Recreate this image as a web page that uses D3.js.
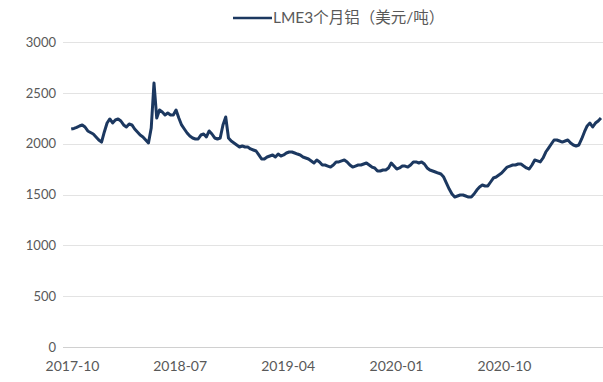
<!DOCTYPE html>
<html>
<head>
<meta charset="utf-8">
<script src="https://cdn.jsdelivr.net/npm/d3@7"></script>
<style>
  body { margin: 0; background: #fff; }
  svg { display: block; }
  text { font-family: Lato, "Noto Sans CJK SC", sans-serif; fill: #595959; }
</style>
</head>
<body>
<svg id="chart" width="603" height="382"></svg>
<script>
// Weekly closes (Fridays), LME 3-month aluminium, USD/t
const dates = [
  "2017-09-29","2017-10-06","2017-10-13","2017-10-20","2017-10-27","2017-11-03","2017-11-10","2017-11-17","2017-11-24",
  "2017-12-01","2017-12-08","2017-12-15","2017-12-22","2017-12-29",
  "2018-01-05","2018-01-12","2018-01-19","2018-01-26","2018-02-02","2018-02-09","2018-02-16","2018-02-23",
  "2018-03-02","2018-03-09","2018-03-16","2018-03-23","2018-03-30","2018-04-06","2018-04-13","2018-04-20","2018-04-27",
  "2018-05-04","2018-05-11","2018-05-18","2018-05-25","2018-06-01","2018-06-08","2018-06-15","2018-06-22","2018-06-29",
  "2018-07-06","2018-07-13","2018-07-20","2018-07-27","2018-08-03","2018-08-10","2018-08-17","2018-08-24","2018-08-31",
  "2018-09-07","2018-09-14","2018-09-21","2018-09-28","2018-10-05","2018-10-12","2018-10-19","2018-10-26",
  "2018-11-02","2018-11-09","2018-11-16","2018-11-23","2018-11-30","2018-12-07","2018-12-14","2018-12-21","2018-12-28",
  "2019-01-04","2019-01-11","2019-01-18","2019-01-25","2019-02-01","2019-02-08","2019-02-15","2019-02-22",
  "2019-03-01","2019-03-08","2019-03-15","2019-03-22","2019-03-29","2019-04-05","2019-04-12","2019-04-19","2019-04-26",
  "2019-05-03","2019-05-10","2019-05-17","2019-05-24","2019-05-31","2019-06-07","2019-06-14","2019-06-21","2019-06-28",
  "2019-07-05","2019-07-12","2019-07-19","2019-07-26","2019-08-02","2019-08-09","2019-08-16","2019-08-23","2019-08-30",
  "2019-09-06","2019-09-13","2019-09-20","2019-09-27","2019-10-04","2019-10-11","2019-10-18","2019-10-25",
  "2019-11-01","2019-11-08","2019-11-15","2019-11-22","2019-11-29","2019-12-06","2019-12-13","2019-12-20","2019-12-27",
  "2020-01-03","2020-01-10","2020-01-17","2020-01-24","2020-01-31","2020-02-07","2020-02-14","2020-02-21","2020-02-28",
  "2020-03-06","2020-03-13","2020-03-20","2020-03-27","2020-04-03","2020-04-10","2020-04-17","2020-04-24",
  "2020-05-01","2020-05-08","2020-05-15","2020-05-22","2020-05-29","2020-06-05","2020-06-12","2020-06-19","2020-06-26",
  "2020-07-03","2020-07-10","2020-07-17","2020-07-24","2020-07-31","2020-08-07","2020-08-14","2020-08-21","2020-08-28",
  "2020-09-04","2020-09-11","2020-09-18","2020-09-25","2020-10-02","2020-10-09","2020-10-16","2020-10-23","2020-10-30",
  "2020-11-06","2020-11-13","2020-11-20","2020-11-27","2020-12-04","2020-12-11","2020-12-18","2020-12-25",
  "2021-01-01","2021-01-08","2021-01-15","2021-01-22","2021-01-29","2021-02-05","2021-02-12","2021-02-19","2021-02-26",
  "2021-03-05","2021-03-12","2021-03-19","2021-03-26","2021-04-02","2021-04-09","2021-04-16","2021-04-23","2021-04-30",
  "2021-05-07","2021-05-14","2021-05-21","2021-05-28","2021-06-04"
];

const prices = [
  2144,2150,2160,2174,2184,2164,2125,2110,2095,2066,2036,2016,2115,2203,
  2243,2203,2233,2243,2223,2184,2164,2193,2184,2144,2115,2085,2066,2036,2007,2154,2597,2252,
  2331,2311,2282,2302,2282,2282,2331,2252,2184,2144,2105,2075,2056,2046,2046,2085,2095,
  2066,2125,2095,2056,2046,2056,2184,2262,2056,2026,2007,1987,1967,1977,1967,1967,1948,
  1938,1928,1889,1849,1849,1869,1879,1889,1869,1898,1879,1889,1908,1918,1918,1908,1898,
  1889,1869,1859,1849,1830,1810,1839,1820,1790,1790,1780,1770,1790,1820,1820,1830,1839,
  1820,1790,1770,1780,1790,1790,1800,1810,1790,1770,1761,1731,1731,1741,1741,1761,1810,1780,
  1751,1761,1780,1780,1770,1790,1820,1820,1810,1820,1800,1761,1741,1731,1721,1711,1702,
  1672,1613,1554,1505,1475,1485,1495,1495,1485,1475,1475,1505,1544,1574,1593,1584,1584,
  1623,1662,1672,1692,1711,1741,1770,1780,1790,1790,1800,1800,1780,1761,1751,1790,1839,1830,1820,
  1859,1918,1957,1997,2036,2036,2026,2016,2026,2036,2007,1987,1977,1987,2046,2115,2174,2203,
  2164,2203,2223,2252,2262
];

const yTicks = [0, 500, 1000, 1500, 2000, 2500, 3000];
const xTickDates = ["2017-10-01", "2018-07-01", "2019-04-01", "2020-01-01", "2020-10-01"];
const xTickLabels = ["2017-10", "2018-07", "2019-04", "2020-01", "2020-10"];
const seriesName = "LME3个月铝（美元/吨）";

const parse = d3.timeParse("%Y-%m-%d");
const series = dates.map((d, i) => ({ date: parse(d), value: prices[i] }));

const svg = d3.select("#chart");
const plotLeft = 63, plotRight = 603;

const x = d3.scaleTime()
  .domain([parse("2017-10-01"), parse("2020-10-01")])
  .range([72, 504]);
const y = d3.scaleLinear().domain([0, 3000]).range([347, 42]);

// horizontal gridlines
svg.append("g")
  .selectAll("line")
  .data(yTicks)
  .join("line")
  .attr("x1", plotLeft).attr("x2", plotRight)
  .attr("y1", d => Math.round(y(d)) + 0.5)
  .attr("y2", d => Math.round(y(d)) + 0.5)
  .attr("stroke", d => d === 0 ? "#d0d0d0" : "#e3e3e3")
  .attr("stroke-width", 1);

// y-axis labels
const yAxis = d3.axisLeft(y).tickValues(yTicks).tickFormat(d3.format("d")).tickSize(0).tickPadding(0);
svg.append("g")
  .attr("transform", "translate(56,0)")
  .call(yAxis)
  .call(g => g.select(".domain").remove())
  .call(g => g.selectAll("text").attr("font-size", 13).style("font-family", "Lato, sans-serif").attr("fill", "#595959"));

// x-axis labels
const xAxis = d3.axisBottom(x)
  .tickValues(xTickDates.map(parse))
  .tickFormat((d, i) => xTickLabels[i])
  .tickSize(0).tickPadding(0);
svg.append("g")
  .attr("transform", "translate(0,361)")
  .call(xAxis)
  .call(g => g.select(".domain").remove())
  .call(g => g.selectAll("text").attr("font-size", 14).style("font-family", "Lato, sans-serif").attr("fill", "#595959"));

// price line
svg.append("defs").append("clipPath").attr("id", "plot-clip")
  .append("rect").attr("x", plotLeft).attr("y", 0).attr("width", plotRight - plotLeft).attr("height", 382);

const line = d3.line().x(d => x(d.date)).y(d => y(d.value)).curve(d3.curveLinear);
svg.append("path")
  .datum(series)
  .attr("clip-path", "url(#plot-clip)")
  .attr("fill", "none")
  .attr("stroke", "#1c3860")
  .attr("stroke-width", 3)
  .attr("stroke-linejoin", "round")
  .attr("d", line);

// legend
const legend = svg.append("g").attr("transform", "translate(233,18)");
legend.append("line").attr("x1", 0).attr("x2", 39).attr("y1", 0).attr("y2", 0)
  .attr("stroke", "#1c3860").attr("stroke-width", 2.6);
legend.append("text").attr("x", 40).attr("y", 0).attr("dy", "0.35em")
  .attr("font-size", 15.5).text(seriesName);
</script>
</body>
</html>
